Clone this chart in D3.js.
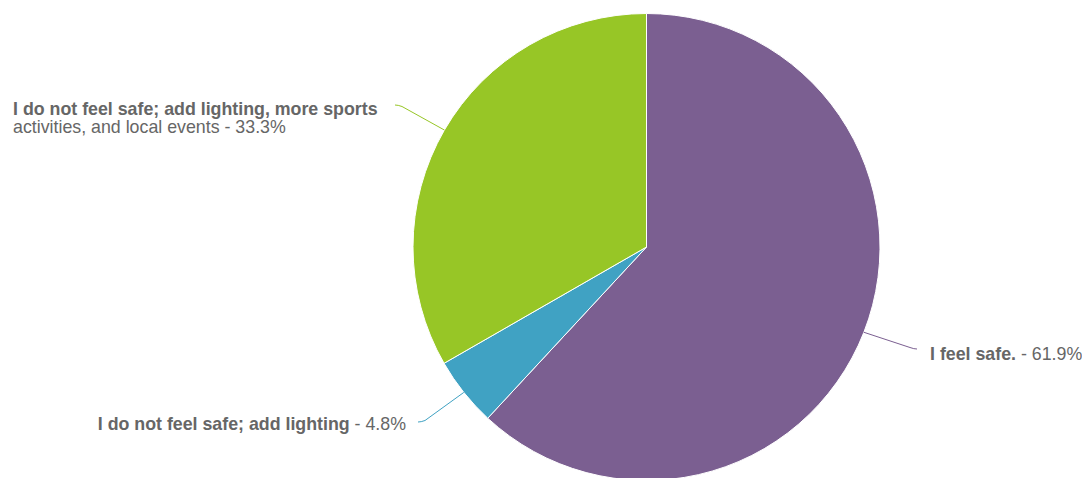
<!DOCTYPE html>
<html><head><meta charset="utf-8">
<script src="https://cdn.jsdelivr.net/npm/d3@7"></script>
<style>body{margin:0;background:#fff;}svg{display:block;font-family:"Liberation Sans",Arial,Helvetica,sans-serif;}</style>
</head><body>
<svg id="chart" width="1082" height="478"></svg>
<script>
const categories = ["I feel safe.", "I do not feel safe; add lighting", "I do not feel safe; add lighting, more sports activities, and local events"];
const values = [61.9, 4.8, 33.3];
const colors = ["#7b5f91", "#40a2c3", "#97c626"];
// label line pieces: [text, bold]
const labelLines = [
  [[["I feel safe.", true], [" - 61.9%", false]]],
  [[["I do not feel safe; add lighting", true], [" - 4.8%", false]]],
  [[["I do not feel safe; add lighting, more sports", true]], [["activities, and local events - 33.3%", false]]]
];
// layout: label anchor, text-anchor, connector end
const labelLayout = [
  {x: 930, y: 360, anchor: "start", endX: 917, endY: 349},
  {x: 406, y: 429.5, anchor: "end", endX: 418, endY: 422},
  {x: 13, y: 115, anchor: "start", endX: 395, endY: 105}
];

const svg = d3.select("#chart");
const cx = 646.5, cy = 247, R = 233.5;
const g = svg.append("g").attr("transform", `translate(${cx},${cy})`);
const pie = d3.pie().sort(null).value(d => d).startAngle(0).endAngle(2*Math.PI);
const arcs = pie(values);
const arc = d3.arc().innerRadius(0).outerRadius(R);

g.selectAll("path.slice").data(arcs).enter().append("path")
  .attr("class", "slice")
  .attr("d", arc)
  .attr("fill", (d, i) => colors[i])
  .attr("stroke", "#fff").attr("stroke-width", 1).attr("stroke-linejoin", "round");

// connectors
arcs.forEach((d, i) => {
  const a = (d.startAngle + d.endAngle) / 2;
  const ex = cx + R * Math.sin(a), ey = cy - R * Math.cos(a);
  const L = labelLayout[i];
  const dir = L.endX > ex ? 1 : -1;
  const kx = L.endX - dir * 7, ky = L.endY + (ey > L.endY ? 1.5 : -1.5);
  const p = d3.path();
  p.moveTo(ex, ey);
  p.lineTo(kx, ky);
  p.quadraticCurveTo(L.endX - dir * 3, L.endY, L.endX, L.endY);
  svg.append("path").attr("d", p.toString()).attr("fill", "none")
    .attr("stroke", colors[i]).attr("stroke-width", 1);
});

// labels (one text element per line)
labelLines.forEach((lines, i) => {
  const L = labelLayout[i];
  lines.forEach((pieces, li) => {
    const t = svg.append("text").attr("x", L.x).attr("y", L.y + li * 18)
      .attr("text-anchor", L.anchor).attr("font-size", 17.8).attr("fill", "#666");
    pieces.forEach(pc => {
      t.append("tspan").text(pc[0]).attr("font-weight", pc[1] ? "bold" : "normal");
    });
  });
});
</script>
</body></html>
